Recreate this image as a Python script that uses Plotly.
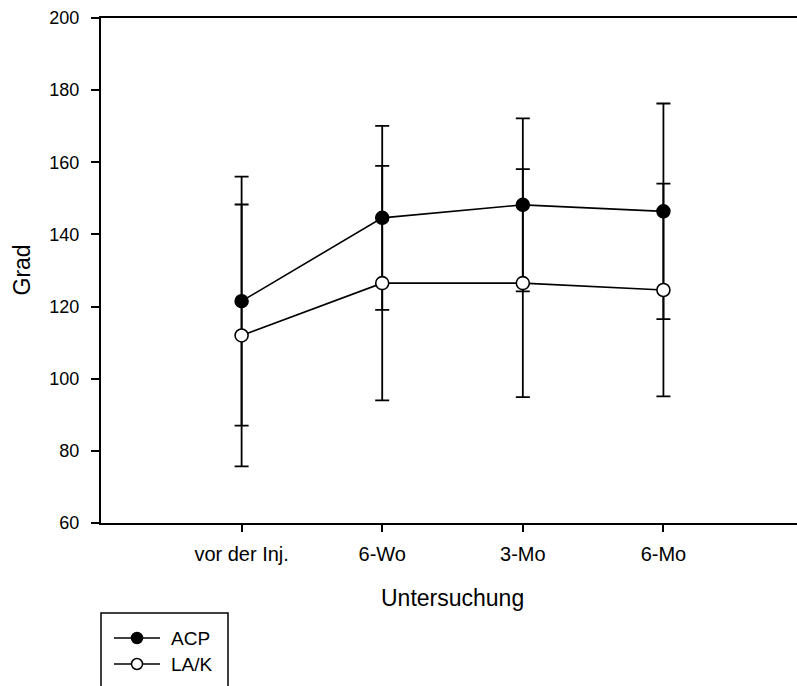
import plotly.graph_objects as go

# Measurement time points and mean values (degrees) with standard deviations
categories = ["vor der Inj.", "6-Wo", "3-Mo", "6-Mo"]
acp_mean = [121.5, 144.6, 148.2, 146.4]
acp_sd = [34.5, 25.5, 24.0, 29.9]
lak_mean = [112.0, 126.5, 126.5, 124.6]
lak_sd = [36.3, 32.5, 31.6, 29.5]

series_names = ["ACP", "LA/K"]
y_ticks = [60, 80, 100, 120, 140, 160, 180, 200]

W, H = 797, 686
ML, MR, MT, MB = 101, 0, 18, 163
PW, PH = W - ML - MR, H - MT - MB

FONT = "Arial, 'Liberation Sans', Helvetica, sans-serif"
XTICK_SIZE = 20
YTICK_SIZE = 18
TITLE_SIZE = 23
LEGEND_SIZE = 19


def px_x(px):
    return (px - ML) / PW


def px_y(py):
    return (H - MB - py) / PH


fig = go.Figure()

fig.add_trace(go.Scatter(
    x=categories, y=acp_mean, name=series_names[0], mode="lines+markers",
    line=dict(color="black", width=1.6),
    marker=dict(symbol="circle", size=13, color="black",
                line=dict(color="black", width=1.5)),
    error_y=dict(type="data", array=acp_sd, visible=True,
                 color="black", thickness=1.8, width=7),
    showlegend=False,
))
fig.add_trace(go.Scatter(
    x=categories, y=lak_mean, name=series_names[1], mode="lines+markers",
    line=dict(color="black", width=1.6),
    marker=dict(symbol="circle", size=13, color="white",
                line=dict(color="black", width=1.6)),
    error_y=dict(type="data", array=lak_sd, visible=True,
                 color="black", thickness=1.8, width=7),
    showlegend=False,
))

shapes = []
annotations = []

# Legend box (open at the bottom edge of the page)
shapes.append(dict(type="rect", xref="paper", yref="paper",
                   x0=px_x(101), x1=px_x(228), y0=px_y(613), y1=px_y(720),
                   line=dict(color="black", width=1.5), fillcolor="white",
                   layer="above"))

legend_rows = [638, 664]
legend_fill = ["black", "white"]
for name, row, fill in zip(series_names, legend_rows, legend_fill):
    shapes.append(dict(type="line", xref="paper", yref="paper",
                       x0=px_x(114), x1=px_x(160), y0=px_y(row), y1=px_y(row),
                       line=dict(color="black", width=1.6), layer="above"))
    shapes.append(dict(type="circle", xref="paper", yref="paper",
                       xsizemode="pixel", ysizemode="pixel",
                       xanchor=px_x(137), yanchor=px_y(row),
                       x0=-5.5, x1=5.5, y0=-5.5, y1=5.5,
                       fillcolor=fill, line=dict(color="black", width=1.5),
                       layer="above"))
    annotations.append(dict(xref="paper", yref="paper", x=px_x(169), y=px_y(row),
                            text=name, showarrow=False, xanchor="left",
                            yanchor="middle",
                            font=dict(family=FONT, size=LEGEND_SIZE, color="black")))

# Axis titles
annotations.append(dict(xref="x", yref="paper", x=1.5, y=px_y(598),
                        text="Untersuchung", showarrow=False,
                        xanchor="center", yanchor="middle",
                        font=dict(family=FONT, size=TITLE_SIZE, color="black")))
annotations.append(dict(xref="paper", yref="paper", x=px_x(21), y=0.5,
                        text="Grad", showarrow=False, textangle=-90,
                        xanchor="center", yanchor="middle",
                        font=dict(family=FONT, size=TITLE_SIZE, color="black")))

fig.update_layout(
    width=W, height=H,
    margin=dict(l=ML, r=MR, t=MT, b=MB, pad=0),
    paper_bgcolor="white", plot_bgcolor="white",
    font=dict(family=FONT, size=XTICK_SIZE, color="black"),
    shapes=shapes, annotations=annotations,
    showlegend=False,
)
fig.update_xaxes(
    type="category", categoryorder="array", categoryarray=categories,
    range=[-1, 3.95], showgrid=False, zeroline=False,
    showline=True, linecolor="black", linewidth=2, mirror=True,
    ticks="outside", ticklen=7, tickwidth=2, tickcolor="black",
    ticklabelstandoff=5,
    tickfont=dict(family=FONT, size=XTICK_SIZE, color="black"),
)
fig.update_yaxes(
    range=[60, 200], tickvals=y_ticks, showgrid=False, zeroline=False,
    showline=True, linecolor="black", linewidth=2, mirror=False,
    ticks="outside", ticklen=8, tickwidth=2, tickcolor="black",
    ticklabelstandoff=8,
    tickfont=dict(family=FONT, size=YTICK_SIZE, color="black"),
)

fig.write_html("out.html")
